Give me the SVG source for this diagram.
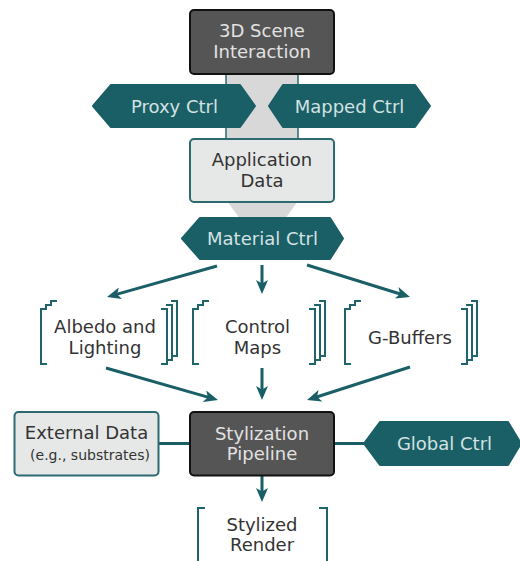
<svg xmlns="http://www.w3.org/2000/svg" width="520" height="561" viewBox="0 0 520 561">
<defs>
<style>
.t{font-family:"DejaVu Sans","Liberation Sans",sans-serif;font-size:18px;text-anchor:middle}
.dk{fill:#333}
.lt{fill:#e2e2e2}
.tl{fill:#d3e2e2}
.hex{fill:#1a5f66;stroke:#1a5f66;stroke-width:2;stroke-linejoin:round}
.darkbox{fill:#555;stroke:#111;stroke-width:2}
.litebox{fill:#e6e8e8;stroke:#2a6a70;stroke-width:2}
.br{fill:none;stroke:#1f646b;stroke-width:2}
.bg{fill:#fff}
.con{stroke:#1a5f66;stroke-width:3;fill:none}
</style>
<marker id="ah" markerUnits="userSpaceOnUse" viewBox="0 0 14 12" markerWidth="14" markerHeight="12" refX="8" refY="6" orient="auto">
<path d="M0,0 L14,6 L0,12 L3.5,6 z" fill="#1a5f66"/>
</marker>
</defs>

<g id="connectors">
<rect x="226" y="74" width="72" height="66" fill="#d8d8d8"/>
<line x1="226" y1="74" x2="226" y2="140" stroke="#2a6a70" stroke-width="1.5"/>
<line x1="298" y1="74" x2="298" y2="140" stroke="#2a6a70" stroke-width="1.5"/>
<polygon points="227,201 298,201 285,219 240,219" fill="#d8d8d8"/>
<line class="con" x1="217" y1="266" x2="112.8" y2="295.4" marker-end="url(#ah)"/>
<line class="con" x1="262" y1="265" x2="262" y2="288" marker-end="url(#ah)"/>
<line class="con" x1="307" y1="265" x2="404.3" y2="295.2" marker-end="url(#ah)"/>
<line class="con" x1="106" y1="368" x2="212.2" y2="398.4" marker-end="url(#ah)"/>
<line class="con" x1="262" y1="368" x2="262" y2="394" marker-end="url(#ah)"/>
<line class="con" x1="410" y1="367" x2="312.7" y2="398.2" marker-end="url(#ah)"/>
<line class="con" x1="262" y1="476" x2="262" y2="496" marker-end="url(#ah)"/>
<line class="con" x1="158" y1="443.5" x2="190" y2="443.5"/>
<line class="con" x1="334" y1="443.5" x2="366" y2="443.5"/>
</g>

<g id="scene">
<rect class="darkbox" x="190" y="10" width="144" height="64" rx="4"/>
<text class="t lt" x="262" y="37">3D Scene</text>
<text class="t lt" x="262" y="57.5">Interaction</text>
</g>

<g id="proxy">
<polygon class="hex" points="93,106 111,85 240,85 255,106 240,127 111,127"/>
<text class="t tl" x="174.5" y="113">Proxy Ctrl</text>
</g>

<g id="mapped">
<polygon class="hex" points="269,106 283,85 415,85 430,106 415,127 283,127"/>
<text class="t tl" x="349.5" y="113">Mapped Ctrl</text>
</g>

<g id="appdata">
<rect class="litebox" x="190" y="139" width="144" height="63" rx="4"/>
<text class="t dk" x="262" y="166">Application</text>
<text class="t dk" x="262" y="187">Data</text>
</g>

<g id="material">
<polygon class="hex" points="182,238.5 200,218 330,218 343,238.5 330,259 200,259"/>
<text class="t tl" x="262.5" y="245">Material Ctrl</text>
</g>

<g id="albedo">
<rect class="bg" x="51" y="301" width="126" height="55"/>
<path class="br" d="M57,301 H51 V356 H57 M171,301 H177 V356 H171"/>
<rect class="bg" x="46" y="305" width="126" height="55"/>
<path class="br" d="M52,305 H46 V360 H52 M166,305 H172 V360 H166"/>
<rect class="bg" x="41" y="309" width="126" height="55"/>
<path class="br" d="M47,309 H41 V364 H47 M161,309 H167 V364 H161"/>
<text class="t dk" x="105" y="333">Albedo and</text>
<text class="t dk" x="105" y="353.5">Lighting</text>
</g>

<g id="controlmaps">
<rect class="bg" x="203" y="301" width="122" height="55"/>
<path class="br" d="M209,301 H203 V356 H209 M319,301 H325 V356 H319"/>
<rect class="bg" x="198" y="305" width="122" height="55"/>
<path class="br" d="M204,305 H198 V360 H204 M314,305 H320 V360 H314"/>
<rect class="bg" x="193" y="309" width="122" height="55"/>
<path class="br" d="M199,309 H193 V364 H199 M309,309 H315 V364 H309"/>
<text class="t dk" x="257.5" y="333">Control</text>
<text class="t dk" x="257.5" y="353.5">Maps</text>
</g>

<g id="gbuffers">
<rect class="bg" x="355" y="301" width="122" height="55"/>
<path class="br" d="M361,301 H355 V356 H361 M471,301 H477 V356 H471"/>
<rect class="bg" x="350" y="305" width="122" height="55"/>
<path class="br" d="M356,305 H350 V360 H356 M466,305 H472 V360 H466"/>
<rect class="bg" x="345" y="309" width="122" height="55"/>
<path class="br" d="M351,309 H345 V364 H351 M461,309 H467 V364 H461"/>
<text class="t dk" x="410" y="343.5">G-Buffers</text>
</g>

<g id="external">
<rect class="litebox" x="14.5" y="412" width="144" height="63.5" rx="4"/>
<text class="t dk" x="86.5" y="438.5">External Data</text>
<text class="t dk" x="90" y="459.5" style="font-size:14px">(e.g., substrates)</text>
</g>

<g id="stylization">
<rect class="darkbox" x="190" y="412" width="144" height="63.5" rx="4"/>
<text class="t lt" x="262" y="439.5">Stylization</text>
<text class="t lt" x="262" y="460">Pipeline</text>
</g>

<g id="global">
<polygon class="hex" points="364,443.5 380,422 508,422 521,443.5 508,465 380,465"/>
<text class="t tl" x="444.5" y="449.5">Global Ctrl</text>
</g>

<g id="render">
<path class="br" d="M205,508 H198 V580 M319,508 H327 V580"/>
<text class="t dk" x="262" y="531">Stylized</text>
<text class="t dk" x="262" y="551">Render</text>
</g>
</svg>
